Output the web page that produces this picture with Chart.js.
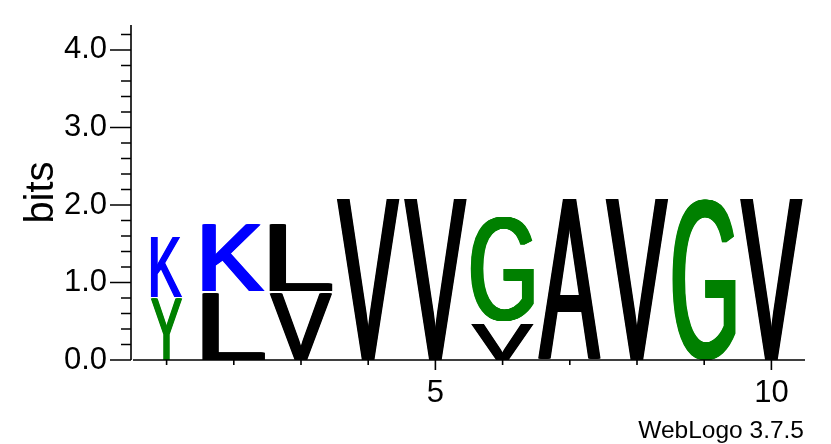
<!DOCTYPE html>
<html>
<head>
<meta charset="utf-8">
<script src="https://cdn.jsdelivr.net/npm/chart.js@4.4.1/dist/chart.umd.min.js"></script>
<style>
    html, body { margin: 0; padding: 0; background: #fff; }
    #wrap { width: 831px; height: 444px; position: relative; }
</style>
</head>
<body>
<div id="wrap"><canvas id="logo"></canvas></div>
<script>
// Sequence logo, one stack per position, letters listed bottom to top.
const positions = [1, 2, 3, 4, 5, 6, 7, 8, 9, 10];
const stackWidths = [0.5, 1, 1, 1, 1, 1, 1, 1, 1, 1];
const stackLetters = [['Y', 'K'], ['L', 'K'], ['V', 'L'], ['V'], ['V'], ['V', 'G'], ['A'], ['V'], ['G'], ['V']];
const stackHeights = [[0.80, 0.80], [0.875, 0.89], [0.875, 0.89], [2.09], [2.09], [0.48, 1.36], [2.09], [2.09], [2.09], [2.09]];

const xTickLabels = ['', '', '', '', '5', '', '', '', '', '10'];
const yTickValues = [0, 0.2, 0.4, 0.6, 0.8, 1, 1.2, 1.4, 1.6, 1.8, 2, 2.2, 2.4, 2.6, 2.8, 3, 3.2, 3.4, 3.6, 3.8, 4, 4.2];
const yMajorValues = [0, 1, 2, 3, 4];
const yMajorLabels = ['0.0', '1.0', '2.0', '3.0', '4.0'];
const yMax = 4.3219; // log2(20)

const letterColors = {
    K: '#0000ff', Y: '#008000', G: '#008000',
    L: '#000000', V: '#000000', A: '#000000',
};

const FONT = '"Liberation Sans", Arial, sans-serif';
const GLYPH_FRAC = 0.945;
const STEM_FATTEN = 0.07; // extra stem weight, as a share of glyph width

// Fit the glyph's ink box to the slot; repeat it sideways a little so the
// stems come out heavier while the horizontal strokes stay thin.
function drawGlyph(ctx, ch, color, x0, x1, yTop, yBottom) {
    ctx.save();
    ctx.font = '200px ' + FONT;
    ctx.textAlign = 'left';
    ctx.textBaseline = 'alphabetic';
    ctx.fillStyle = color;
    const m = ctx.measureText(ch);
    const gw = m.actualBoundingBoxLeft + m.actualBoundingBoxRight;
    const gh = m.actualBoundingBoxAscent + m.actualBoundingBoxDescent;
    const fat = (x1 - x0) * STEM_FATTEN;
    const w = x1 - x0 - fat;
    for (let dx = 0; dx <= fat + 0.01; dx += 0.5) {
        ctx.save();
        ctx.translate(x0 + dx, yTop);
        ctx.scale(w / gw, (yBottom - yTop) / gh);
        ctx.fillText(ch, m.actualBoundingBoxLeft, m.actualBoundingBoxAscent);
        ctx.restore();
    }
    ctx.restore();
}

const logoGlyphs = {
    id: 'logoGlyphs',
    afterDatasetsDraw(chart) {
        const ctx = chart.ctx;
        const xs = chart.scales.x;
        const ys = chart.scales.y;
        positions.forEach((p, i) => {
            const hw = stackWidths[i] * GLYPH_FRAC / 2;
            const x0 = xs.getPixelForValue(p - hw);
            const x1 = xs.getPixelForValue(p + hw);
            let cum = 0;
            stackLetters[i].forEach((ch, j) => {
                const h = stackHeights[i][j];
                const yb = ys.getPixelForValue(cum) - (cum > 0 ? 1 : 0);
                const yt = ys.getPixelForValue(cum + h) + 1;
                drawGlyph(ctx, ch, letterColors[ch], x0, x1, yt, yb);
                cum += h;
            });
        });
    },
};

const logoAxes = {
    id: 'logoAxes',
    afterDraw(chart) {
        const ctx = chart.ctx;
        const xs = chart.scales.x;
        const ys = chart.scales.y;
        const area = chart.chartArea;
        const axisX = area.left - 2;
        ctx.save();
        ctx.strokeStyle = '#000';
        ctx.lineWidth = 1.6;
        ctx.beginPath();
        // y axis and its ticks
        ctx.moveTo(axisX, area.top);
        ctx.lineTo(axisX, area.bottom);
        yTickValues.forEach(v => {
            const y = ys.getPixelForValue(v);
            const len = yMajorValues.includes(v) ? 21 : 10;
            ctx.moveTo(axisX - len, y);
            ctx.lineTo(axisX, y);
        });
        // x axis and its ticks
        ctx.moveTo(area.left, area.bottom);
        ctx.lineTo(area.right, area.bottom);
        positions.forEach((p, i) => {
            const x = xs.getPixelForValue(p);
            ctx.moveTo(x, area.bottom);
            ctx.lineTo(x, area.bottom + (xTickLabels[i] ? 10 : 5));
        });
        ctx.stroke();

        ctx.fillStyle = '#000';
        // axis title
        ctx.save();
        ctx.translate(53, (area.top + area.bottom) / 2);
        ctx.rotate(-Math.PI / 2);
        ctx.font = '40px ' + FONT;
        ctx.textAlign = 'center';
        ctx.textBaseline = 'alphabetic';
        ctx.fillText('bits', 0, 0);
        ctx.restore();

        // version line
        ctx.font = '24.5px ' + FONT;
        ctx.textAlign = 'right';
        ctx.textBaseline = 'alphabetic';
        ctx.fillText('WebLogo 3.7.5', 804, 438);
        ctx.restore();
    },
};

function noScalePadding(s) {
    s.paddingTop = 0;
    s.paddingBottom = 0;
    s.paddingLeft = 0;
    s.paddingRight = 0;
}

new Chart(document.getElementById('logo'), {
    type: 'scatter',
    data: {
        datasets: [{
            label: 'stack tops',
            data: positions.map((p, i) => ({ x: p, y: stackHeights[i].reduce((a, b) => a + b, 0) })),
            pointRadius: 0,
            pointHoverRadius: 0,
        }],
    },
    options: {
        responsive: true,
        maintainAspectRatio: false,
        animation: false,
        events: [],
        layout: { padding: { top: 25, right: 26, left: 0, bottom: 0 } },
        plugins: {
            legend: { display: false },
            tooltip: { enabled: false },
        },
        scales: {
            x: {
                type: 'linear',
                min: 0.5,
                max: 10.5,
                afterBuildTicks: s => { s.ticks = positions.map(v => ({ value: v })); },
                afterFit: s => { s.height = 84; noScalePadding(s); },
                grid: { display: false, drawTicks: false },
                border: { display: false },
                ticks: {
                    autoSkip: false,
                    maxRotation: 0,
                    padding: 15,
                    color: '#000',
                    font: { family: FONT, size: 31 },
                    callback: (v, i) => xTickLabels[i],
                },
            },
            y: {
                type: 'linear',
                min: 0,
                max: yMax,
                afterBuildTicks: s => { s.ticks = yTickValues.map(v => ({ value: v })); },
                afterFit: s => { s.width = 133; noScalePadding(s); },
                grid: { display: false, drawTicks: false },
                border: { display: false },
                ticks: {
                    autoSkip: false,
                    padding: 26,
                    color: '#000',
                    font: { family: FONT, size: 31 },
                    callback: v => {
                        const k = yMajorValues.indexOf(v);
                        return k >= 0 ? yMajorLabels[k] : '';
                    },
                },
            },
        },
    },
    plugins: [logoGlyphs, logoAxes],
});
</script>
</body>
</html>
